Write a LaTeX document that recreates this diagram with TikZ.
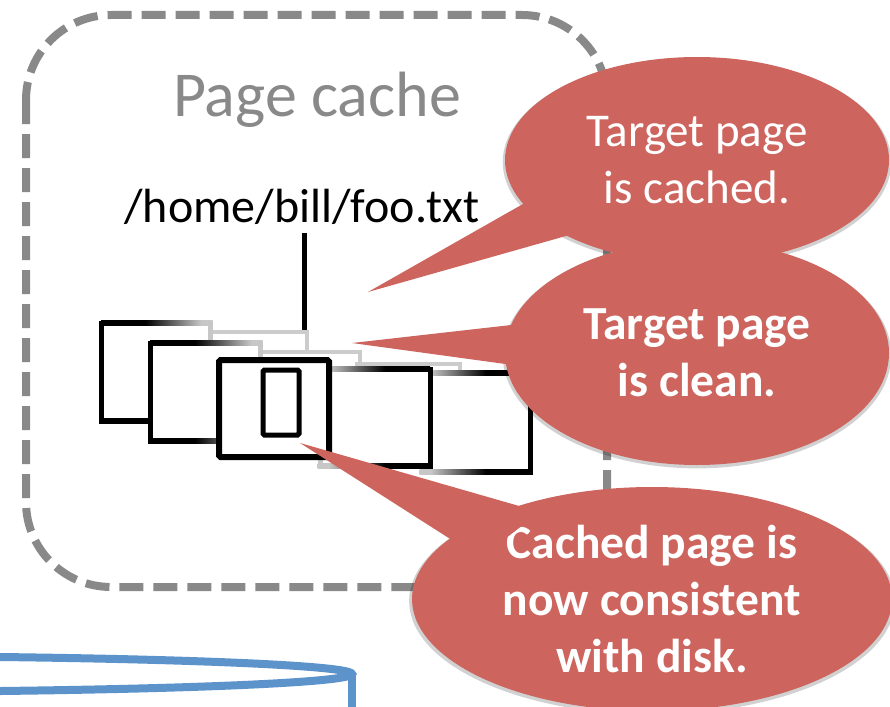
\documentclass[tikz,border=0pt]{standalone}
\usepackage{fontspec}
\setmainfont{Carlito}
\usetikzlibrary{shapes.geometric,shadows}

\definecolor{cachegray}{RGB}{137,137,137}
\definecolor{calloutred}{RGB}{205,101,94}
\definecolor{diskblue}{RGB}{92,147,202}

\pgfdeclarehorizontalshading{fadeR}{100bp}{color(0bp)=(black); color(25bp)=(black); color(45bp)=(black); color(70bp)=(black!22); color(100bp)=(black!22)}
\pgfdeclarehorizontalshading{fadeL}{100bp}{color(0bp)=(black!22); color(30bp)=(black!22); color(55bp)=(black); color(75bp)=(black); color(100bp)=(black)}

% page outline, black on the left, fading out to the right
\newcommand{\pageR}[4]{%
  \fill[white] (#1,#2) rectangle (#3,#4);
  \fill[black!22] (#3-2.5,#2-2.5) rectangle (#3+2.5,#4+2.5);
  \shade[shading=fadeR] (#1,#2-2.5) rectangle (#3+2.5,#2+2.5);
  \shade[shading=fadeR] (#1,#4-2.5) rectangle (#3+2.5,#4+2.5);
  \fill[black] (#1-2.5,#2-2.5) rectangle (#1+2.5,#4+2.5);
}
% page outline, black on the right, fading out to the left
\newcommand{\pageL}[4]{%
  \fill[white] (#1,#2) rectangle (#3,#4);
  \fill[black!22] (#1-2.5,#2-2.5) rectangle (#1+2.5,#4+2.5);
  \shade[shading=fadeL] (#1-2.5,#2-2.5) rectangle (#3,#2+2.5);
  \shade[shading=fadeL] (#1-2.5,#4-2.5) rectangle (#3,#4+2.5);
  \fill[black] (#3-2.5,#2-2.5) rectangle (#3+2.5,#4+2.5);
}

\tikzset{
  cachebox/.style={draw=cachegray, line width=8pt, dash pattern=on 24pt off 10pt, rounded corners=85pt},
  cachetitle/.style={text=cachegray, inner sep=0pt, font=\fontsize{64}{64}\selectfont},
  pathtext/.style={inner sep=0pt, font=\fontsize{48}{48}\selectfont},
  fileline/.style={line width=5pt},
  ghostedge/.style={draw=black!20, line width=4pt},
  bubble/.style={ellipse, fill=calloutred, text=white, align=center, inner sep=0pt,
    general shadow={fill=black, opacity=.18, shadow scale=1.012, shadow yshift=-2pt}},
  callout/.style={fill=calloutred},
  disk/.style={draw=diskblue, line width=8pt},
}

\begin{document}
\begin{tikzpicture}[x=1pt,y=-1pt]
\useasboundingbox (0,0) rectangle (890,706);
\clip (0,0) rectangle (890,706);

% page cache frame
\draw[cachebox] (26,15) rectangle (607,587);
\node[cachetitle, anchor=base] (cachelabel) at (317,117) {Page cache};
\node[pathtext, anchor=base] (filepath) at (302,222) {/home/bill/foo.txt};
\coordinate (hit) at (304,334);
\draw[fileline] (hit |- filepath.south) ++(0,9) -- (hit);

% pages further back
\draw[ghostedge] (205,332) -- (307,332) -- (307,352);
\draw[ghostedge] (255,352) -- (360,352) -- (360,366);
\draw[ghostedge] (355,364) -- (460,364) -- (460,374);

% pages
\pageR{101}{323}{210}{421}
\pageR{150}{343}{260}{441}
\pageL{422}{373}{530}{472}
\pageL{320}{369}{430}{466}
\draw[fill=white, line width=6pt, rounded corners=1.5pt] (219,360) rectangle (329,457);
\draw[line width=5pt, rounded corners=1.5pt] (263,370) rectangle (299,435);

% callouts
\coordinate (tipcached) at (368,292);
\coordinate (tipclean) at (352,343);
\coordinate (tipsync) at (300,443);

\node[bubble, minimum width=384pt, minimum height=206pt,
  font=\fontsize{47}{57}\selectfont] (cachednote) at (697,160) {Target page\\is cached.};
\fill[callout] (tipcached) -- ([shift={(-167,40)}]cachednote.center)
  -- ([shift={(-117,72)}]cachednote.center) -- cycle;

\node[bubble, minimum width=384pt, minimum height=224pt,
  font=\bfseries\fontsize{47.5}{57}\selectfont] (cleannote) at (697,353) {Target page\\is clean.};
\fill[callout] (tipclean) -- ([shift={(-177,-29)}]cleannote.center)
  -- ([shift={(-177,13)}]cleannote.center) -- cycle;

\node[bubble, minimum width=480pt, minimum height=224pt,
  font=\bfseries\fontsize{47.5}{57}\selectfont] (syncnote) at (652,599) {Cached page is\\now consistent\\with disk.};
\fill[callout] (tipsync) -- ([shift={(-112,-87)}]syncnote.center)
  -- ([shift={(-172,-41)}]syncnote.center) -- cycle;

% disk
\draw[disk] (-173,674) ellipse [x radius=525, y radius=18];
\draw[disk] (352,674) -- (352,712);
\end{tikzpicture}
\end{document}
